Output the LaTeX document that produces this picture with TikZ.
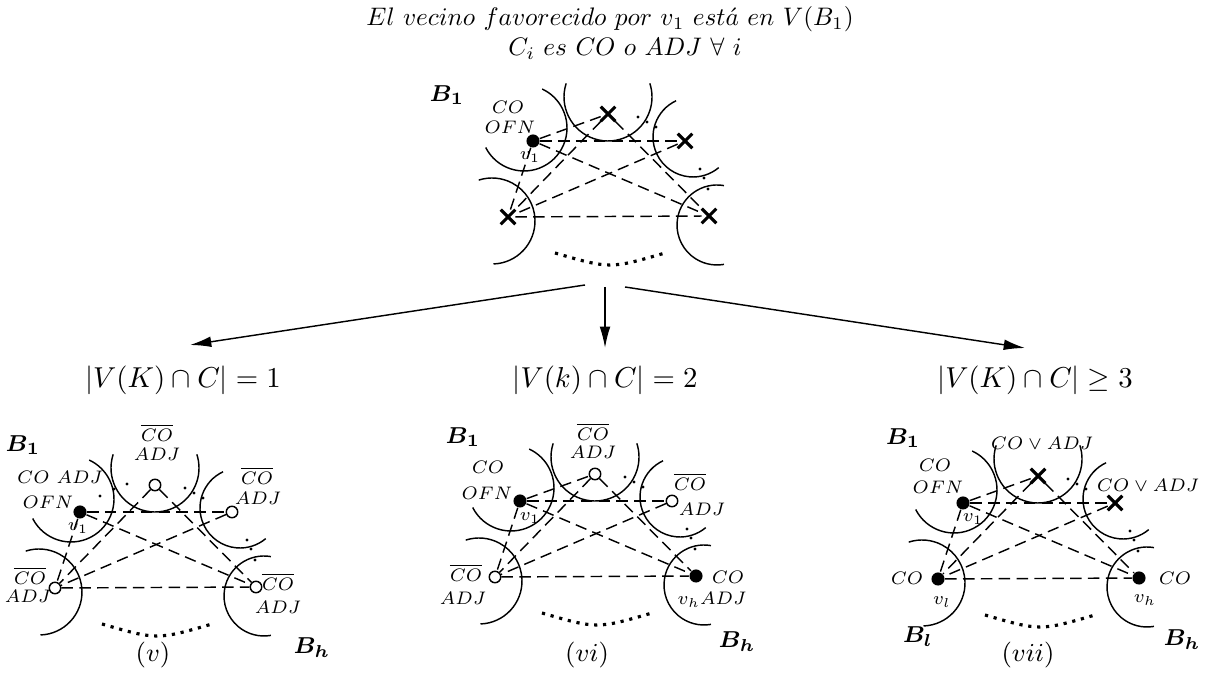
\documentclass[tikz,border=0pt]{standalone}
\usepackage{amsmath,amssymb}
\usepackage{bm}
\usetikzlibrary{positioning,shapes.misc,arrows.meta}

\begin{document}
\begin{tikzpicture}[x=0.0122cm,y=0.0122cm]
  % Styles local to this figure.
  \tikzset{
    bloque/.style={line width=0.5pt},
    arista/.style={dash pattern=on 4pt off 2.2pt,line width=0.5pt},
    lleno/.style={circle,fill,minimum size=1.6mm,inner sep=0pt},
    hueco/.style={circle,draw,fill=white,minimum size=1.4mm,inner sep=0pt,line width=0.5pt},
    cruz/.style={cross out,draw,minimum size=1.4mm,inner sep=0pt,line width=1.1pt},
    etq/.style={font=\scriptsize,scale=0.9,inner sep=1pt},
    nom/.style={font=\footnotesize,inner sep=1pt},
    pie/.style={font=\small,inner sep=1pt},
    titulo/.style={scale=0.88,inner sep=0pt},
    puntos/.style={dotted,line width=1.1pt},
    flecha/.style={-{Latex[length=2.6mm,width=1.3mm]},line width=0.5pt}
  }
  \useasboundingbox (0,0) rectangle (1211,673);

  % Title.
  \node[titulo] (tit1) at (610,654) {$El\ vecino\ favorecido\ por\ v_1\ est\acute{a}\ en\ V(B_1)$};
  \node[titulo] (tit2) at (625,624) {$C_i\ es\ CO\ o\ ADJ\ \forall\ i$};

  % Common skeleton: five blocks, dotted gap and ellipsis dots.
  \foreach \sx/\sy in {533/532,80/161,520/172,963/170} {
    \begin{scope}[shift={(\sx,\sy)}]
      \foreach \cx/\cy/\r/\a/\b in {-9/13/43/207/425,75/44/44/162/378,160/4/40/115/310,-41/-80/43/-88/108,184/-84/40/80/280}
        \draw[bloque] (\cx,\cy) ++(\a:\r) arc[start angle=\a,end angle=\b,radius=\r];
      \foreach \px/\py in {105/24,114/19,123/14,167/-28,171/-37,175/-48}
        \fill (\px,\py) circle (1.6);
      \draw[puntos] (22,-112) .. controls (77,-128) .. (132,-112);
    \end{scope}
  }

  % Top case.
  \begin{scope}[shift={(533,532)},name prefix=top-]
    \node[lleno] (p1) at (0,0) {};
    \node[cruz] (p2) at (75,27) {};
    \node[cruz] (p3) at (152,0) {};
    \node[cruz] (p4) at (-25,-76) {};
    \node[cruz] (p5) at (176,-75) {};
    \foreach \a/\b in {p1/p2,p1/p3,p1/p4,p1/p5,p2/p4,p2/p5,p3/p4,p4/p5}
      \draw[arista] (\a) -- (\b);
    \node[nom] (b1) at (-86,46) {$\bm{B_1}$};
    \node[etq] (co) at (-25,34) {$CO$};
    \node[etq] (ofn) at (-23,14) {$OFN$};
    \node[etq] (l1) at (-3,-16) {$v_1$};
  \end{scope}

  % Branches.
  \node (k1) at (183,293) {$|V(K)\cap C|=1$};
  \node (k2) at (605,293) {$|V(k)\cap C|=2$};
  \node (k3) at (1035,293) {$|V(K)\cap C|\geq 3$};
  \coordinate (r1) at (585,388);
  \coordinate (r2) at (605,386);
  \coordinate (r3) at (625,386);
  \coordinate (f1) at (190,328);
  \coordinate (f2) at (605,325);
  \coordinate (f3) at (1025,325);
  \foreach \i in {1,2,3} {\draw[flecha] (r\i) -- (f\i);}

  % Case (v).
  \begin{scope}[shift={(80,161)},name prefix=v-]
    \node[lleno] (p1) at (0,0) {};
    \node[hueco] (p2) at (75,27) {};
    \node[hueco] (p3) at (152,0) {};
    \node[hueco] (p4) at (-25,-76) {};
    \node[hueco] (p5) at (176,-75) {};
    \foreach \a/\b in {p1/p3,p1/p4,p1/p5,p2/p4,p2/p5,p3/p4,p4/p5}
      \draw[arista] (\a) -- (\b);
    \foreach \px/\py in {20/16,34/23,47/28}
      \fill (\px,\py) circle (1.6);
    \node[nom] (b1) at (-57,67) {$\bm{B_1}$};
    \node[etq] (co2) at (77,79) {$\overline{CO}$};
    \node[etq] (adj2) at (77,58) {$ADJ$};
    \node[etq] (co) at (-20,35) {$CO\ ADJ$};
    \node[etq] (ofn) at (-32,10) {$OFN$};
    \node[etq] (l1) at (-2,-16) {$v_1$};
    \node[etq] (co3) at (177,36) {$\overline{CO}$};
    \node[etq] (adj3) at (178,14) {$ADJ$};
    \node[etq] (co4) at (-50,-64) {$\overline{CO}$};
    \node[etq] (adj4) at (-52,-84) {$ADJ$};
    \node[etq] (co5) at (198,-70) {$\overline{CO}$};
    \node[etq] (adj5) at (198,-95) {$ADJ$};
    \node[nom] (bh) at (232,-136) {$\bm{B_h}$};
    \node[pie] (cap) at (73,-143) {$(v)$};
  \end{scope}

  % Case (vi).
  \begin{scope}[shift={(520,172)},name prefix=vi-]
    \node[lleno] (p1) at (0,0) {};
    \node[hueco] (p2) at (75,27) {};
    \node[hueco] (p3) at (152,0) {};
    \node[hueco] (p4) at (-25,-76) {};
    \node[lleno] (p5) at (176,-75) {};
    \foreach \a/\b in {p1/p2,p1/p3,p1/p4,p1/p5,p2/p4,p2/p5,p3/p4,p4/p5}
      \draw[arista] (\a) -- (\b);
    \node[nom] (b1) at (-57,64) {$\bm{B_1}$};
    \node[etq] (co) at (-32,34) {$CO$};
    \node[etq] (ofn) at (-33,8) {$OFN$};
    \node[etq] (l1) at (10,-17) {$v_1$};
    \node[etq] (co2) at (73,69) {$\overline{CO}$};
    \node[etq] (adj2) at (73,49) {$ADJ$};
    \node[etq] (co3) at (170,19) {$\overline{CO}$};
    \node[etq] (adj3) at (182,-8) {$ADJ$};
    \node[etq] (co4) at (-54,-72) {$\overline{CO}$};
    \node[etq] (adj4) at (-57,-97) {$ADJ$};
    \node[etq] (co5) at (208,-76) {$CO$};
    \node[etq] (lh) at (192,-99) {$v_hADJ$};
    \node[nom] (bh) at (217,-141) {$\bm{B_h}$};
    \node[pie] (cap) at (67,-154) {$(vi)$};
  \end{scope}

  % Case (vii).
  \begin{scope}[shift={(963,170)},name prefix=vii-]
    \node[lleno] (p1) at (0,0) {};
    \node[cruz] (p2) at (75,27) {};
    \node[cruz] (p3) at (152,0) {};
    \node[lleno] (p4) at (-25,-76) {};
    \node[lleno] (p5) at (176,-75) {};
    \foreach \a/\b in {p1/p2,p1/p3,p1/p4,p1/p5,p2/p4,p2/p5,p3/p4,p4/p5}
      \draw[arista] (\a) -- (\b);
    \node[nom] (b1) at (-60,65) {$\bm{B_1}$};
    \node[etq] (co) at (-28,38) {$CO$};
    \node[etq] (ofn) at (-25,16) {$OFN$};
    \node[etq] (l1) at (10,-16) {$v_1$};
    \node[etq] (co2) at (79,60) {$CO\vee ADJ$};
    \node[etq] (co3) at (185,18) {$CO\vee ADJ$};
    \node[etq] (co4) at (-56,-75) {$CO$};
    \node[etq] (ll) at (-21,-99) {$v_l$};
    \node[nom] (bl) at (-45,-134) {$\bm{B_l}$};
    \node[etq] (co5) at (212,-75) {$CO$};
    \node[etq] (lh) at (182,-97) {$v_h$};
    \node[nom] (bh) at (219,-137) {$\bm{B_h}$};
    \node[pie] (cap) at (65,-152) {$(vii)$};
  \end{scope}
\end{tikzpicture}
\end{document}
